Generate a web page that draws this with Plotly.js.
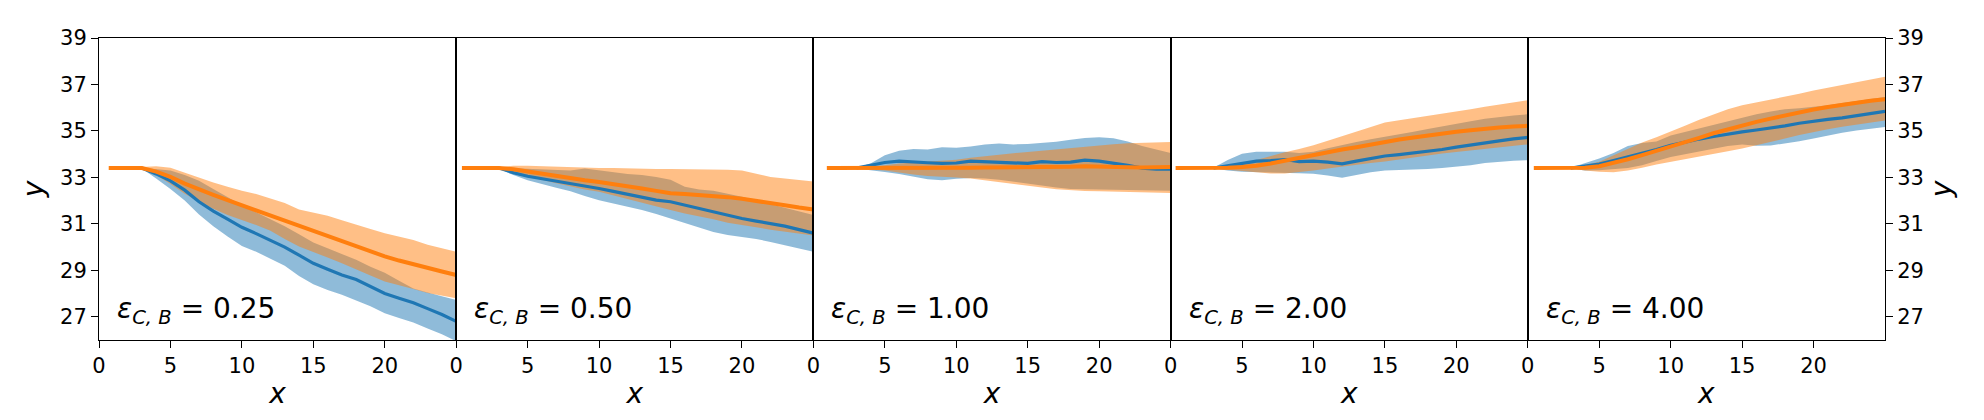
<!DOCTYPE html>
<html>
<head>
<meta charset="utf-8">
<script src="https://cdn.plot.ly/plotly-3.0.1.min.js"></script>
<style>html,body{margin:0;padding:0;background:#fff}</style>
</head>
<body>
<div id="chart" style="width:1984px;height:420px"></div>
<script>
// Sample positions shared by every panel (the bands and the blue curve start at x = 3)
const steps = [3,4,5,6,7,8,9,10,11,12,13,14,15,16,17,18,19,20,21,22,23,24,25];

// Panel labels (epsilon_{C,B} values)
const epsLabels = ['0.25', '0.50', '1.00', '2.00', '4.00'];

// Orange curve starts earlier at the common initial level
const initialLevel = 33.4;
const orangeStart = [0.68, 0.4, 0.94, 0.35, 0.42];

// ε = 0.25
const orangeMean025 = [33.4,33.25,33.02,32.73,32.47,32.25,32.02,31.8,31.6,31.38,31.15,30.9,30.7,30.48,30.25,30.03,29.8,29.6,29.42,29.25,29.1,28.95,28.8];
const orangeHi025   = [33.45,33.48,33.42,33.2,32.97,32.78,32.6,32.42,32.28,32.1,31.9,31.62,31.5,31.35,31.15,30.95,30.78,30.6,30.45,30.3,30.1,29.95,29.8];
const orangeLo025   = [33.35,33.1,32.72,32.3,31.95,31.65,31.38,31.15,30.95,30.7,30.35,30.02,29.8,29.55,29.3,29.05,28.78,28.52,28.35,28.2,28.02,27.9,27.8];
const blueMean025   = [33.4,33.15,32.85,32.45,31.95,31.55,31.2,30.85,30.58,30.3,30.0,29.65,29.3,29.05,28.8,28.6,28.3,28.0,27.8,27.6,27.35,27.1,26.8];
const blueHi025     = [33.42,33.35,33.3,33.1,32.85,32.5,32.15,31.8,31.5,31.2,30.9,30.55,30.2,29.95,29.7,29.45,29.15,28.9,28.55,28.22,28.05,27.88,27.72];
const blueLo025     = [33.38,32.95,32.5,32.0,31.4,30.9,30.45,30.05,29.8,29.5,29.2,28.75,28.4,28.15,27.95,27.7,27.45,27.15,26.95,26.75,26.5,26.25,25.95];

// ε = 0.50
const orangeMean050 = [33.4,33.35,33.25,33.15,33.05,32.95,32.88,32.8,32.72,32.62,32.52,32.42,32.32,32.28,32.25,32.2,32.15,32.08,32.0,31.92,31.8,31.7,31.62];
const orangeHi050   = [33.45,33.5,33.5,33.48,33.45,33.42,33.42,33.4,33.4,33.38,33.38,33.36,33.36,33.36,33.35,33.34,33.33,33.3,33.15,33.02,32.95,32.88,32.82];
const orangeLo050   = [33.35,33.2,33.05,32.9,32.75,32.6,32.48,32.38,32.2,32.05,31.9,31.75,31.6,31.45,31.32,31.2,31.05,30.94,30.85,30.75,30.65,30.58,30.5];
const blueMean050   = [33.4,33.2,33.05,32.95,32.85,32.75,32.62,32.52,32.4,32.28,32.15,32.02,31.95,31.8,31.65,31.5,31.35,31.23,31.12,31.02,30.9,30.75,30.6];
const blueHi050     = [33.42,33.4,33.35,33.35,33.33,33.3,33.38,33.3,33.2,33.15,33.1,33.02,32.9,32.6,32.48,32.42,32.3,32.17,32.0,31.85,31.7,31.55,31.38];
const blueLo050     = [33.38,33.1,32.88,32.72,32.55,32.4,32.2,32.02,31.88,31.74,31.6,31.42,31.23,31.05,30.85,30.65,30.52,30.44,30.35,30.22,30.1,29.95,29.8];

// ε = 1.00
const orangeMean100 = [33.4,33.4,33.4,33.39,33.38,33.38,33.38,33.39,33.42,33.43,33.43,33.42,33.42,33.43,33.44,33.46,33.48,33.48,33.46,33.44,33.43,33.44,33.45];
const orangeHi100   = [33.42,33.46,33.52,33.6,33.64,33.7,33.73,33.76,33.85,33.92,33.98,34.04,34.09,34.15,34.22,34.28,34.33,34.38,34.43,34.47,34.49,34.5,34.52];
const orangeLo100   = [33.38,33.34,33.3,33.2,33.12,33.06,33.02,32.99,32.95,32.9,32.82,32.72,32.64,32.56,32.49,32.44,32.41,32.4,32.4,32.39,32.37,32.35,32.33];
const blueMean100   = [33.4,33.52,33.64,33.7,33.68,33.63,33.6,33.62,33.7,33.67,33.66,33.62,33.6,33.68,33.64,33.66,33.74,33.7,33.62,33.52,33.4,33.35,33.35];
const blueHi100     = [33.42,33.6,33.95,34.15,34.22,34.2,34.3,34.28,34.33,34.42,34.46,34.42,34.44,34.47,34.53,34.62,34.7,34.73,34.68,34.55,34.35,34.2,34.05];
const blueLo100     = [33.38,33.3,33.23,33.15,33.05,32.92,32.88,32.94,32.97,32.95,32.9,32.8,32.74,32.65,32.56,32.5,32.5,32.5,32.48,32.47,32.45,32.44,32.43];

// ε = 2.00
const orangeMean200 = [33.4,33.42,33.45,33.5,33.6,33.72,33.85,34.0,34.1,34.2,34.3,34.42,34.53,34.63,34.72,34.81,34.89,34.96,35.03,35.1,35.15,35.19,35.22];
const orangeHi200   = [33.42,33.48,33.55,33.75,33.92,34.08,34.22,34.38,34.58,34.78,34.98,35.18,35.36,35.46,35.55,35.64,35.73,35.82,35.93,36.04,36.14,36.23,36.32];
const orangeLo200   = [33.38,33.35,33.3,33.22,33.17,33.17,33.22,33.3,33.38,33.46,33.55,33.62,33.68,33.77,33.85,33.94,34.03,34.1,34.17,34.24,34.3,34.36,34.42];
const blueMean200   = [33.4,33.5,33.6,33.7,33.72,33.77,33.68,33.7,33.66,33.58,33.7,33.82,33.92,33.98,34.05,34.14,34.2,34.3,34.38,34.48,34.57,34.66,34.72];
const blueHi200     = [33.42,33.75,34.02,34.1,34.1,34.1,34.05,34.1,34.25,34.4,34.52,34.64,34.74,34.86,34.96,35.08,35.2,35.31,35.42,35.52,35.6,35.66,35.72];
const blueLo200     = [33.38,33.3,33.24,33.22,33.2,33.2,33.18,33.16,33.08,32.98,33.1,33.22,33.3,33.32,33.33,33.36,33.4,33.45,33.52,33.62,33.68,33.72,33.74];

// ε = 4.00
const orangeMean400 = [33.4,33.42,33.48,33.62,33.78,33.96,34.14,34.31,34.5,34.7,34.9,35.07,35.24,35.39,35.53,35.67,35.8,35.92,36.03,36.13,36.22,36.3,36.36];
const orangeHi400   = [33.42,33.52,33.67,33.95,34.25,34.5,34.73,34.96,35.22,35.48,35.72,35.93,36.1,36.22,36.33,36.46,36.6,36.74,36.86,36.98,37.1,37.22,37.33];
const orangeLo400   = [33.38,33.3,33.24,33.22,33.3,33.42,33.55,33.67,33.78,33.9,34.02,34.13,34.24,34.38,34.52,34.67,34.82,34.96,35.07,35.18,35.28,35.37,35.45];
const blueMean400   = [33.4,33.48,33.57,33.72,33.87,34.03,34.2,34.38,34.52,34.65,34.76,34.87,34.96,35.04,35.12,35.22,35.33,35.43,35.5,35.56,35.65,35.75,35.84];
const blueHi400     = [33.42,33.6,33.81,34.05,34.35,34.48,34.55,34.8,34.95,35.1,35.25,35.42,35.58,35.72,35.84,35.93,35.98,36.03,36.1,36.2,36.28,36.37,36.46];
const blueLo400     = [33.38,33.3,33.31,33.35,33.4,33.52,33.7,33.88,34.0,34.12,34.24,34.35,34.42,34.36,34.37,34.45,34.56,34.67,34.78,34.92,35.02,35.1,35.17];

// Axis ticks
const xTicks = [0, 5, 10, 15, 20];
const yTicks = [27, 29, 31, 33, 35, 37, 39];

const panels = [
  {blue: [blueMean025, blueLo025, blueHi025], orange: [orangeMean025, orangeLo025, orangeHi025]},
  {blue: [blueMean050, blueLo050, blueHi050], orange: [orangeMean050, orangeLo050, orangeHi050]},
  {blue: [blueMean100, blueLo100, blueHi100], orange: [orangeMean100, orangeLo100, orangeHi100]},
  {blue: [blueMean200, blueLo200, blueHi200], orange: [orangeMean200, orangeLo200, orangeHi200]},
  {blue: [blueMean400, blueLo400, blueHi400], orange: [orangeMean400, orangeLo400, orangeHi400]}
];

const BLUE = '#1f77b4', ORANGE = '#ff7f0e';
const BLUE_FILL = 'rgba(31,119,180,0.5)', ORANGE_FILL = 'rgba(255,127,14,0.5)';
const FONT = 'DejaVu Sans, sans-serif';

function band(lo, hi, color, xa, ya) {
  return {
    type: 'scatter', mode: 'lines', xaxis: xa, yaxis: ya,
    x: steps.concat(steps.slice().reverse()),
    y: hi.concat(lo.slice().reverse()),
    fill: 'toself', fillcolor: color, line: {width: 0}, hoverinfo: 'skip', showlegend: false
  };
}

const traces = [];
const layout = {
  width: 1984, height: 420,
  margin: {l: 99, r: 99, t: 38, b: 80},
  paper_bgcolor: '#fff', plot_bgcolor: '#fff',
  showlegend: false,
  font: {family: FONT, color: '#000'},
  annotations: []
};

panels.forEach((p, i) => {
  const n = i + 1;
  const xa = 'x' + (n === 1 ? '' : n);
  const ya = 'y' + (n === 1 ? '' : n);

  traces.push(band(p.blue[1], p.blue[2], BLUE_FILL, xa, ya));
  traces.push(band(p.orange[1], p.orange[2], ORANGE_FILL, xa, ya));
  traces.push({type: 'scatter', mode: 'lines', xaxis: xa, yaxis: ya, x: steps, y: p.blue[0],
               line: {color: BLUE, width: 3.2}, hoverinfo: 'skip', showlegend: false});
  traces.push({type: 'scatter', mode: 'lines', xaxis: xa, yaxis: ya,
               x: [orangeStart[i]].concat(steps), y: [initialLevel].concat(p.orange[0]),
               line: {color: ORANGE, width: 4}, hoverinfo: 'skip', showlegend: false});

  layout['xaxis' + (n === 1 ? '' : n)] = {
    domain: [i / 5, (i + 1) / 5], anchor: ya, range: [0, 25],
    tickmode: 'array', tickvals: xTicks, ticktext: xTicks.map(String),
    ticks: 'outside', ticklen: 7, tickwidth: 1, tickcolor: '#000',
    tickfont: {family: FONT, size: 21, color: '#000'},
    showline: true, mirror: true, linecolor: '#000', linewidth: 1,
    showgrid: false, zeroline: false,
    title: {text: '<i>x</i>', font: {family: FONT, size: 28, color: '#000'}, standoff: 6}
  };

  const yax = {
    domain: [0, 1], anchor: xa, range: [26, 39],
    tickmode: 'array', tickvals: yTicks, ticktext: yTicks.map(String),
    showline: true, mirror: true, linecolor: '#000', linewidth: 1,
    showgrid: false, zeroline: false,
    tickfont: {family: FONT, size: 21, color: '#000'}
  };
  if (n === 1 || n === 5) {
    yax.ticks = 'outside'; yax.ticklen = 7; yax.tickwidth = 1; yax.tickcolor = '#000';
    yax.showticklabels = true;
    yax.title = {text: '<i>y</i>', font: {family: FONT, size: 28, color: '#000'}, standoff: 8};
    if (n === 5) yax.side = 'right';
  } else {
    yax.ticks = ''; yax.showticklabels = false;
  }
  layout['yaxis' + (n === 1 ? '' : n)] = yax;

  layout.annotations.push({
    xref: xa + ' domain', yref: ya + ' domain', x: 0.045, y: 0.03,
    xanchor: 'left', yanchor: 'bottom', showarrow: false,
    text: '<i>ε</i><sub><i>C, B</i></sub> = ' + epsLabels[i],
    font: {family: FONT, size: 28, color: '#000'}
  });
});

Plotly.newPlot('chart', traces, layout, {displayModeBar: false, staticPlot: true});
</script>
</body>
</html>
